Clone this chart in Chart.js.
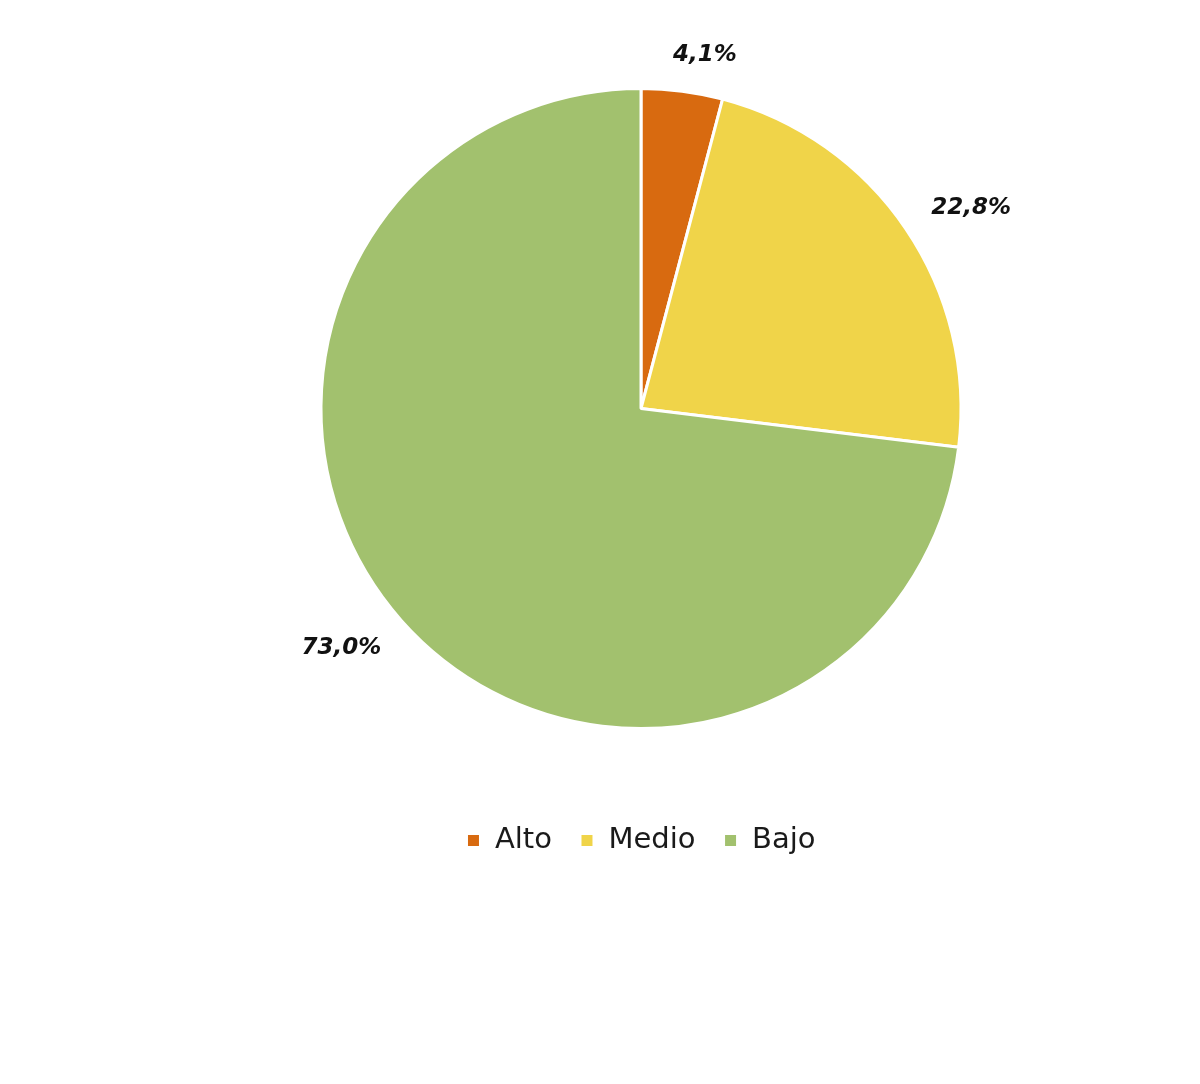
<!DOCTYPE html>
<html>
<head>
<meta charset="utf-8">
<script src="https://cdn.jsdelivr.net/npm/chart.js@4.4.0/dist/chart.umd.min.js"></script>
<style>
  body { margin: 0; background: #fff; }
  #wrap { width: 1200px; height: 1084px; }
</style>
</head>
<body>
<div id="wrap"><canvas id="pie"></canvas></div>
<script>
var categories = ['Alto', 'Medio', 'Bajo'];
var values = [4.1, 22.8, 73.0];
var labelsText = ['4,1%', '22,8%', '73,0%'];
var colors = ['#D86A10', '#F0D449', '#A2C16E'];

// draws the percent labels just outside each slice
var outsideLabels = {
	id: 'outsideLabels',
	afterDatasetsDraw: function(chart) {
		var ctx = chart.ctx;
		var meta = chart.getDatasetMeta(0);
		ctx.save();
		ctx.font = 'italic bold 23px "DejaVu Sans", sans-serif';
		ctx.fillStyle = '#111';
		ctx.textAlign = 'center';
		ctx.textBaseline = 'middle';
		meta.data.forEach(function(arc, i) {
			var p = arc.getProps(['x', 'y', 'startAngle', 'endAngle', 'outerRadius'], true);
			var mid = (p.startAngle + p.endAngle) / 2 + 0.05;
			var w = ctx.measureText(labelsText[i]).width;
			var c = Math.cos(mid), s = Math.sin(mid);
			var d = p.outerRadius + 30 + Math.abs(c) * w / 2 + Math.abs(s) * 4;
			ctx.fillText(labelsText[i], p.x + c * d, p.y + s * d);
		});
		ctx.restore();
	}
};

var ctx = document.getElementById('pie');
var pieChart = new Chart(ctx, {
	type: 'pie',
	data: {
		labels: categories,
		datasets: [{
			data: values,
			backgroundColor: colors,
			borderColor: '#fff',
			borderWidth: 3,
			radius: 320
		}]
	},
	options: {
		responsive: true,
		maintainAspectRatio: false,
		animation: false,
		layout: { padding: { left: 82, top: 19, right: 0, bottom: 219 } },
		plugins: {
			legend: {
				position: 'bottom',
				labels: {
					boxWidth: 14,
					boxHeight: 14,
					padding: 28,
					color: '#1a1a1a',
					font: { size: 29, family: '"DejaVu Sans", sans-serif' }
				}
			},
			tooltip: { enabled: false }
		}
	},
	plugins: [outsideLabels]
});
</script>
</body>
</html>
